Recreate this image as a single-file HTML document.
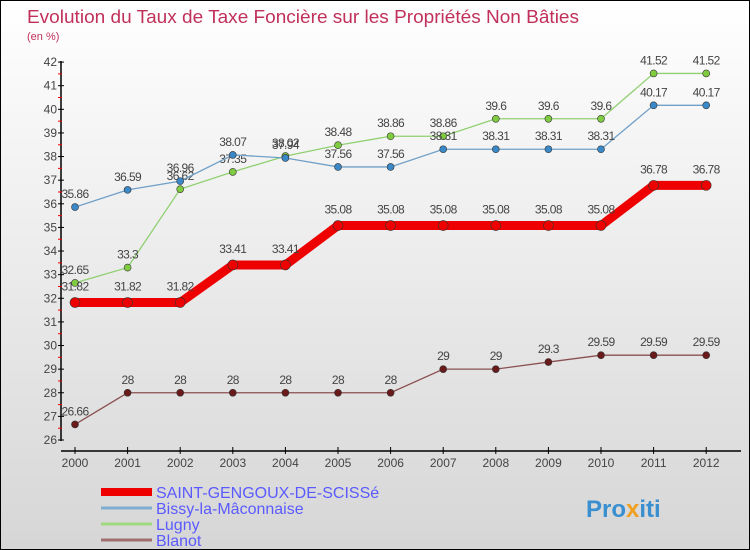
<!DOCTYPE html>
<html><head><meta charset="utf-8"><style>
body{margin:0;}
#wrap{position:relative;width:748px;height:548px;border:1px solid #000;background:linear-gradient(#ffffff,#d6d6d6);overflow:hidden;font-family:"Liberation Sans",sans-serif;}
</style></head><body>
<div id="wrap">
<svg id="chart" width="748" height="548">
<text x="26" y="22" font-size="18" fill="#c0305a" textLength="552" lengthAdjust="spacingAndGlyphs">Evolution du Taux de Taxe Foncière sur les Propriétés Non Bâties</text>
<text x="26" y="39" font-size="11" fill="#c0305a">(en %)</text>
<text x="585" y="516" font-size="24" font-weight="bold" fill="#3a8fd0">Pro<tspan fill="#f0a020">x</tspan>iti</text>
</svg>
</div>
<script>
const years=["2000","2001","2002","2003","2004","2005","2006","2007","2008","2009","2010","2011","2012"];
const yTicks=[26,27,28,29,30,31,32,33,34,35,36,37,38,39,40,41,42];
const saint=[31.82,31.82,31.82,33.41,33.41,35.08,35.08,35.08,35.08,35.08,35.08,36.78,36.78];
const bissy=[35.86,36.59,36.96,38.07,37.94,37.56,37.56,38.31,38.31,38.31,38.31,40.17,40.17];
const lugny=[32.65,33.3,36.62,37.35,38.02,38.48,38.86,38.86,39.6,39.6,39.6,41.52,41.52];
const blanot=[26.66,28,28,28,28,28,28,29,29,29.3,29.59,29.59,29.59];
const names=["SAINT-GENGOUX-DE-SCISSé","Bissy-la-Mâconnaise","Lugny","Blanot"];

const svg=document.getElementById('chart');
const NS="http://www.w3.org/2000/svg";
const x=i=>74+i*52.6;
const y=v=>439-(v-26)*23.62;
function mk(t,a,p){const e=document.createElementNS(NS,t);for(const k in a)e.setAttribute(k,a[k]);(p||svg).appendChild(e);return e;}

let ax=mk('line',{x1:60,y1:60,x2:60,y2:440,stroke:'#000','stroke-width':1.5});


let bx=mk('line',{x1:60,y1:450,x2:740,y2:450,stroke:'#000','stroke-width':1.5});


yTicks.forEach(v=>{
  mk('line',{x1:57,x2:63,y1:y(v),y2:y(v),stroke:'#000'});
  if(v<42){mk('line',{x1:57,x2:61,y1:y(v+0.5),y2:y(v+0.5),stroke:'#e00'});}
  const t=mk('text',{x:56,y:y(v)+4,'font-size':12,'text-anchor':'end',fill:'#444'});
  t.textContent=v;
  
  
});
years.forEach((yr,i)=>{
  mk('line',{x1:x(i),x2:x(i),y1:446,y2:453,stroke:'#000'});
  const t=mk('text',{x:x(i),y:466,'font-size':12,'text-anchor':'middle',fill:'#444'});
  t.textContent=yr;
  
  
});

function series(data,color,w,r,fill,name,labelOffset){
  const g=mk('g',{});
  
  
  mk('polyline',{points:data.map((v,i)=>x(i)+','+y(v)).join(' '),fill:'none',stroke:color,'stroke-width':w,'stroke-linejoin':'miter'},g);
  data.forEach((v,i)=>{
    const c=mk('circle',{cx:x(i),cy:y(v),r:r,fill:fill,stroke:'#333','stroke-width':0.6},g);
    
    
    const t=mk('text',{x:x(i),y:y(v)-labelOffset,'font-size':12,'text-anchor':'middle',fill:'#444','letter-spacing':'-0.6'},g);
    t.textContent=v;
    
    
  });
}
series(blanot,'#8a5050',1.3,3.5,'#6a1a1a','blanot-series',9);
series(lugny,'#90d070',1.3,3.5,'#80cc40','lugny-series',9);
series(bissy,'#70a0c8',1.3,3.5,'#3a88c8','bissy-series',9);
series(saint,'#ee0000',9,5,'#ee0000','saint-gengoux-series',12);

const colors=['#ee0000','#80aed0','#a0d880','#a07070'];
const widths=[8,3,3,3];
names.forEach((n,i)=>{
  const ly=491+i*16;
  const g=mk('g',{});
  
  
  mk('line',{x1:100,x2:151,y1:ly,y2:ly,stroke:colors[i],'stroke-width':widths[i]},g);
  const t=mk('text',{x:155,y:ly+6,'font-size':16,fill:'#5a5aff'},g);
  t.textContent=n;
});
</script>
</body></html>
